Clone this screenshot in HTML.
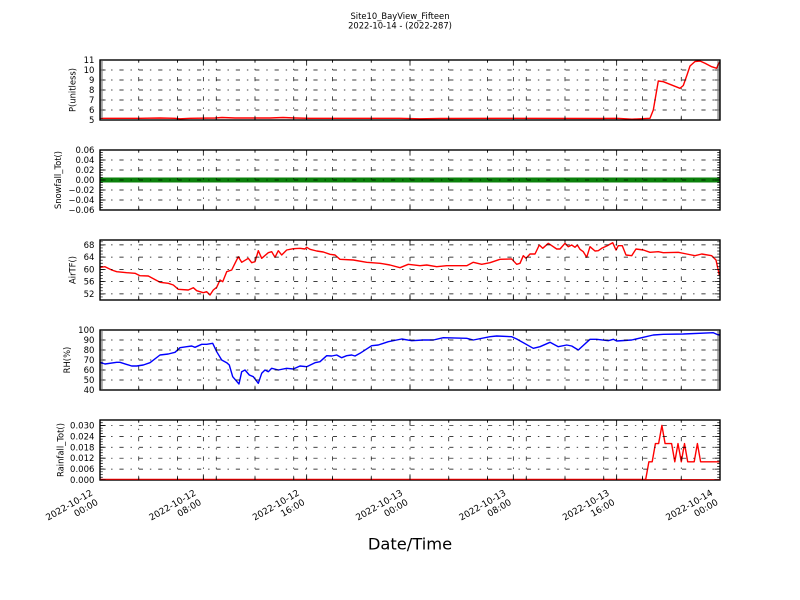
<!DOCTYPE html>
<html><head><meta charset="utf-8"><style>
html,body{margin:0;padding:0;background:#fff;}
svg{display:block;font-family:"DejaVu Sans","Liberation Sans",sans-serif;}
</style></head><body>
<svg width="800" height="600" viewBox="0 0 800 600" xmlns="http://www.w3.org/2000/svg">
<defs>
<clipPath id="c1"><rect x="100" y="60" width="620" height="60"/></clipPath>
<clipPath id="c2"><rect x="100" y="150" width="620" height="60"/></clipPath>
<clipPath id="c3"><rect x="100" y="240" width="620" height="60"/></clipPath>
<clipPath id="c4"><rect x="100" y="330" width="620" height="60"/></clipPath>
<clipPath id="c5"><rect x="100" y="420" width="620" height="60"/></clipPath>
<g id="vg">
<path d="M138.75,60V0M177.5,60V0M203.33,60V0M216.25,60V0M255,60V0M293.75,60V0M306.67,60V0M332.5,60V0M371.25,60V0M410,60V0M448.75,60V0M487.5,60V0M513.33,60V0M526.25,60V0M565,60V0M603.75,60V0M616.67,60V0M642.5,60V0M681.25,60V0" fill="none" stroke="#000" stroke-width="0.7" stroke-dasharray="4.2 6.9 1.4 6.9"/>
</g>
<g id="xt">
<path d="M203.33,60v-5.6M306.67,60v-5.6M410,60v-5.6M513.33,60v-5.6M616.67,60v-5.6M203.33,0v5.6M306.67,0v5.6M410,0v5.6M513.33,0v5.6M616.67,0v5.6" stroke="#000" stroke-width="0.8" fill="none"/>
<path d="M138.75,60v-2.8M177.5,60v-2.8M216.25,60v-2.8M255,60v-2.8M293.75,60v-2.8M332.5,60v-2.8M371.25,60v-2.8M448.75,60v-2.8M487.5,60v-2.8M526.25,60v-2.8M565,60v-2.8M603.75,60v-2.8M642.5,60v-2.8M681.25,60v-2.8M138.75,0v2.8M177.5,0v2.8M216.25,0v2.8M255,0v2.8M293.75,0v2.8M332.5,0v2.8M371.25,0v2.8M448.75,0v2.8M487.5,0v2.8M526.25,0v2.8M565,0v2.8M603.75,0v2.8M642.5,0v2.8M681.25,0v2.8" stroke="#000" stroke-width="0.8" fill="none"/>
</g>
</defs>
<rect width="800" height="600" fill="#fff"/>

<!-- Title -->
<text x="400" y="18.8" font-size="8.4" text-anchor="middle">Site10_BayView_Fifteen</text>
<text x="400" y="28.6" font-size="8.4" text-anchor="middle">2022-10-14 - (2022-287)</text>

<!-- ===== Axis 1: P ===== -->
<path clip-path="url(#c1)" d="M100,118.3 L140,118.3 L160,118 L175,118.3 L180,118.8 L190,118.3 L215,118 L222,117.5 L235,118 L270,118 L283,117.5 L295,118 L310,118.3 L400,118.3 L420,118.8 L440,118.5 L500,118.3 L600,118.5 L617,118.3 L632,119.2 L650,118.3 L653.3,110 L658.3,81 L663.3,81.7 L680,88.3 L683.3,85.5 L687,75 L690,66 L695,61.5 L700,61 L705,63.3 L711.7,66.7 L716.7,68.3 L718.3,64.3 L720,61.7" fill="none" stroke="#ff0000" stroke-width="1.4" stroke-linejoin="round"/>
<path d="M100,70H720M100,80H720M100,90H720M100,100H720M100,110H720" stroke="#000" stroke-width="0.7" stroke-dasharray="4.2 6.9 1.4 6.9" fill="none"/>
<use href="#vg" transform="translate(0,60)"/>
<rect x="100" y="60" width="620" height="60" fill="none" stroke="#000" stroke-width="1.4"/>
<use href="#xt" transform="translate(0,60)"/>
<path d="M100,60h5.6M100,70h5.6M100,80h5.6M100,90h5.6M100,100h5.6M100,110h5.6M100,120h5.6M720,60h-5.6M720,70h-5.6M720,80h-5.6M720,90h-5.6M720,100h-5.6M720,110h-5.6M720,120h-5.6" stroke="#000" stroke-width="0.8"/>
<path d="M101.4,120.35V59.6M718.6,120.35V59.6" stroke="#000" stroke-width="2.8" stroke-dasharray="0.7 1.3" fill="none"/>
<g font-size="8.5" text-anchor="end">
<text x="94.4" y="63">11</text><text x="94.4" y="73">10</text><text x="94.4" y="83">9</text><text x="94.4" y="93">8</text><text x="94.4" y="103">7</text><text x="94.4" y="113">6</text><text x="94.4" y="123">5</text>
</g>
<text transform="translate(75.6,90) rotate(-90)" font-size="8.4" text-anchor="middle">P(unitless)</text>

<!-- ===== Axis 2: Snowfall ===== -->
<path clip-path="url(#c2)" d="M100,180H720" stroke="#0b800b" stroke-width="5" fill="none"/>
<path d="M100,160H720M100,170H720M100,180H720M100,190H720M100,200H720" stroke="#000" stroke-width="0.7" stroke-dasharray="4.2 6.9 1.4 6.9" fill="none"/>
<use href="#vg" transform="translate(0,150)"/>
<rect x="100" y="150" width="620" height="60" fill="none" stroke="#000" stroke-width="1.4"/>
<use href="#xt" transform="translate(0,150)"/>
<path d="M100,150h5.6M100,160h5.6M100,170h5.6M100,180h5.6M100,190h5.6M100,200h5.6M100,210h5.6M720,150h-5.6M720,160h-5.6M720,170h-5.6M720,180h-5.6M720,190h-5.6M720,200h-5.6M720,210h-5.6" stroke="#000" stroke-width="0.8"/>
<path d="M101.4,210.35V149.6M718.6,210.35V149.6" stroke="#000" stroke-width="2.8" stroke-dasharray="0.7 1.8" fill="none"/>
<g font-size="8.5" text-anchor="end">
<text x="94.4" y="153">0.06</text><text x="94.4" y="163">0.04</text><text x="94.4" y="173">0.02</text><text x="94.4" y="183">0.00</text><text x="94.4" y="193">−0.02</text><text x="94.4" y="203">−0.04</text><text x="94.4" y="213">−0.06</text>
</g>
<text transform="translate(61.1,180) rotate(-90)" font-size="8.4" text-anchor="middle">Snowfall_Tot()</text>

<!-- ===== Axis 3: AirT ===== -->
<path clip-path="url(#c3)" d="M100,267.3 L105,266.7 L111.7,270 L116.7,271.7 L126.7,272.7 L135,273.3 L140,275.7 L148.3,276 L160,282.3 L168.3,283.3 L173.3,285 L178.3,289.3 L188.3,290 L193.3,287.7 L196.7,290.7 L203.3,292.7 L206.7,291.7 L210,295 L213.3,290 L216.7,287.3 L220,280 L222.7,281.7 L226.7,271.7 L231.7,270 L235,263.3 L238.3,256.7 L241.7,262.3 L248.3,258.3 L251.7,262.7 L255,261.7 L258.3,250.7 L261.7,258.3 L268.3,252.7 L271.7,251.7 L275,257.3 L278.3,250.7 L281.7,255 L286.7,250 L293.3,248.7 L300,248.3 L305,249 L306.7,247.3 L310,249.3 L316.7,251 L323.3,252 L330,254.3 L335,255 L340,259.3 L353.3,260 L366.7,262.3 L380,263.3 L390,265 L400,267.7 L408.3,264.3 L420,265.7 L426.7,265 L436.7,266.7 L446.7,265.7 L466.7,265.7 L473.3,262.3 L481.7,264.3 L490,262.7 L500,259.3 L511.7,259 L516.7,264.3 L520,263.3 L523.3,255.7 L526,258.3 L530,254 L535,254 L539.3,245 L542.7,248.3 L548.3,243.3 L556.7,249 L560,249 L565,243.3 L568.3,246.7 L571.7,245 L575,247.3 L577.3,245 L580,249.3 L583.3,251.7 L586.7,257.3 L590,246.7 L595,251 L598.3,250.7 L601.7,248.3 L606.7,246 L612.7,242.7 L616,250 L618.3,245.7 L622.3,245.7 L626,255 L631.7,255.7 L636,249 L643.3,250 L650,252.3 L658.3,251.7 L663.3,252.7 L678.3,252.3 L686.7,254 L695,255.7 L701.7,254 L711.7,255.7 L716,260 L719.3,275" fill="none" stroke="#ff0000" stroke-width="1.4" stroke-linejoin="round"/>
<path d="M100,244.9H720M100,257.14H720M100,269.39H720M100,281.63H720M100,293.88H720" stroke="#000" stroke-width="0.7" stroke-dasharray="4.2 6.9 1.4 6.9" fill="none"/>
<use href="#vg" transform="translate(0,240)"/>
<rect x="100" y="240" width="620" height="60" fill="none" stroke="#000" stroke-width="1.4"/>
<use href="#xt" transform="translate(0,240)"/>
<path d="M100,244.9h5.6M100,257.14h5.6M100,269.39h5.6M100,281.63h5.6M100,293.88h5.6M720,244.9h-5.6M720,257.14h-5.6M720,269.39h-5.6M720,281.63h-5.6M720,293.88h-5.6" stroke="#000" stroke-width="0.8"/>
<path d="M101.4,300.35V239.6M718.6,300.35V239.6" stroke="#000" stroke-width="2.8" stroke-dasharray="0.7 2.3612" fill="none"/>
<g font-size="8.5" text-anchor="end">
<text x="94.4" y="247.9">68</text><text x="94.4" y="260.1">64</text><text x="94.4" y="272.4">60</text><text x="94.4" y="284.6">56</text><text x="94.4" y="296.9">52</text>
</g>
<text transform="translate(75.6,270) rotate(-90)" font-size="8.4" text-anchor="middle">AirTF()</text>

<!-- ===== Axis 4: RH ===== -->
<path clip-path="url(#c4)" d="M100,362.3 L105,364 L116.7,362.3 L120,362.3 L131.7,366 L136.7,366 L143.3,365 L150,362.7 L160,355 L168.3,354 L175,352.3 L180,347.7 L186.7,346.7 L191.7,346 L195,347.3 L201.7,344.3 L206.7,344.3 L212.7,343.3 L216.7,351.7 L221.7,360 L226.7,362.7 L229.3,365 L232.7,376.7 L239,384 L241.7,371.7 L245,370 L249.3,375 L253.3,376.7 L258.3,383.3 L261.7,373.3 L265,370 L268.3,371.7 L271.7,368.3 L278.3,370 L286.7,368.3 L293.3,369 L300,366 L306.7,366.7 L315,362.7 L320,361.7 L326.7,355.7 L331.7,356 L336.7,355 L341.7,357.7 L346.7,355.7 L351.7,355 L355,356 L360,353.3 L371.7,345.7 L378.3,345 L388.3,341.7 L401.7,339 L411.7,340.7 L423.3,340 L433.3,340 L443.3,337.7 L466.7,338.3 L473.3,340 L490,336.7 L496.7,336 L511.7,336.7 L516.7,339 L533.3,348.3 L540,346.7 L550,342.3 L558.3,346.7 L566.7,345 L571.7,346 L578.3,350 L590,339.3 L596.7,339.3 L608.3,340.7 L613.3,339.3 L616.7,341 L631.7,340 L643.3,337.3 L653.3,335 L663.3,334.3 L683.3,334 L713.3,332.7 L716.7,334.3 L720,335" fill="none" stroke="#0000ff" stroke-width="1.4" stroke-linejoin="round"/>
<path d="M100,340H720M100,350H720M100,360H720M100,370H720M100,380H720" stroke="#000" stroke-width="0.7" stroke-dasharray="4.2 6.9 1.4 6.9" fill="none"/>
<use href="#vg" transform="translate(0,330)"/>
<rect x="100" y="330" width="620" height="60" fill="none" stroke="#000" stroke-width="1.4"/>
<use href="#xt" transform="translate(0,330)"/>
<path d="M100,330h5.6M100,340h5.6M100,350h5.6M100,360h5.6M100,370h5.6M100,380h5.6M100,390h5.6M720,330h-5.6M720,340h-5.6M720,350h-5.6M720,360h-5.6M720,370h-5.6M720,380h-5.6M720,390h-5.6" stroke="#000" stroke-width="0.8"/>
<path d="M101.4,390.35V329.6M718.6,390.35V329.6" stroke="#000" stroke-width="2.8" stroke-dasharray="0.7 1.3" fill="none"/>
<g font-size="8.5" text-anchor="end">
<text x="94.4" y="333">100</text><text x="94.4" y="343">90</text><text x="94.4" y="353">80</text><text x="94.4" y="363">70</text><text x="94.4" y="373">60</text><text x="94.4" y="383">50</text><text x="94.4" y="393">40</text>
</g>
<text transform="translate(69.8,360) rotate(-90)" font-size="8.4" text-anchor="middle">RH(%)</text>

<!-- ===== Axis 5: Rainfall ===== -->
<path clip-path="url(#c5)" d="M100,479.4 L645.7,479.4 L648.9,461.8 L652.2,461.8 L655.4,443.6 L658.6,443.6 L661.9,425.5 L665.1,443.6 L671.6,443.6 L674.8,461.8 L678,443.6 L681.3,461.8 L684.5,443.6 L687.7,461.8 L694.2,461.8 L697.4,443.6 L700.6,461.8 L720,461.8" fill="none" stroke="#ff0000" stroke-width="1.4" stroke-linejoin="round"/>
<path d="M100,425.45H720M100,436.36H720M100,447.27H720M100,458.18H720M100,469.09H720" stroke="#000" stroke-width="0.7" stroke-dasharray="4.2 6.9 1.4 6.9" fill="none"/>
<use href="#vg" transform="translate(0,420)"/>
<rect x="100" y="420" width="620" height="60" fill="none" stroke="#000" stroke-width="1.4"/>
<path d="M100,479.6H720" stroke="#d00000" stroke-width="0.9"/>
<use href="#xt" transform="translate(0,420)"/>
<path d="M100,425.45h5.6M100,436.36h5.6M100,447.27h5.6M100,458.18h5.6M100,469.09h5.6M100,480h5.6M720,425.45h-5.6M720,436.36h-5.6M720,447.27h-5.6M720,458.18h-5.6M720,469.09h-5.6M720,480h-5.6" stroke="#000" stroke-width="0.8"/>
<path d="M101.4,480.35V419.6M718.6,480.35V419.6" stroke="#000" stroke-width="2.8" stroke-dasharray="0.7 2.027" fill="none"/>
<g font-size="8.5" text-anchor="end">
<text x="94.4" y="428.5">0.030</text><text x="94.4" y="439.4">0.024</text><text x="94.4" y="450.3">0.018</text><text x="94.4" y="461.2">0.012</text><text x="94.4" y="472.1">0.006</text><text x="94.4" y="483">0.000</text>
</g>
<text transform="translate(63.3,450) rotate(-90)" font-size="8.4" text-anchor="middle">Rainfall_Tot()</text>

<!-- X tick labels -->
<g font-size="9" text-anchor="end">
<g transform="translate(98.7,504) rotate(-30)"><text y="-10.8">2022-10-12</text><text y="0">00:00</text></g>
<g transform="translate(202,504) rotate(-30)"><text y="-10.8">2022-10-12</text><text y="0">08:00</text></g>
<g transform="translate(305.4,504) rotate(-30)"><text y="-10.8">2022-10-12</text><text y="0">16:00</text></g>
<g transform="translate(408.7,504) rotate(-30)"><text y="-10.8">2022-10-13</text><text y="0">00:00</text></g>
<g transform="translate(512,504) rotate(-30)"><text y="-10.8">2022-10-13</text><text y="0">08:00</text></g>
<g transform="translate(615.4,504) rotate(-30)"><text y="-10.8">2022-10-13</text><text y="0">16:00</text></g>
<g transform="translate(718.7,504) rotate(-30)"><text y="-10.8">2022-10-14</text><text y="0">00:00</text></g>
</g>

<text x="410" y="549.5" font-size="16.3" text-anchor="middle">Date/Time</text>
</svg>
</body></html>
